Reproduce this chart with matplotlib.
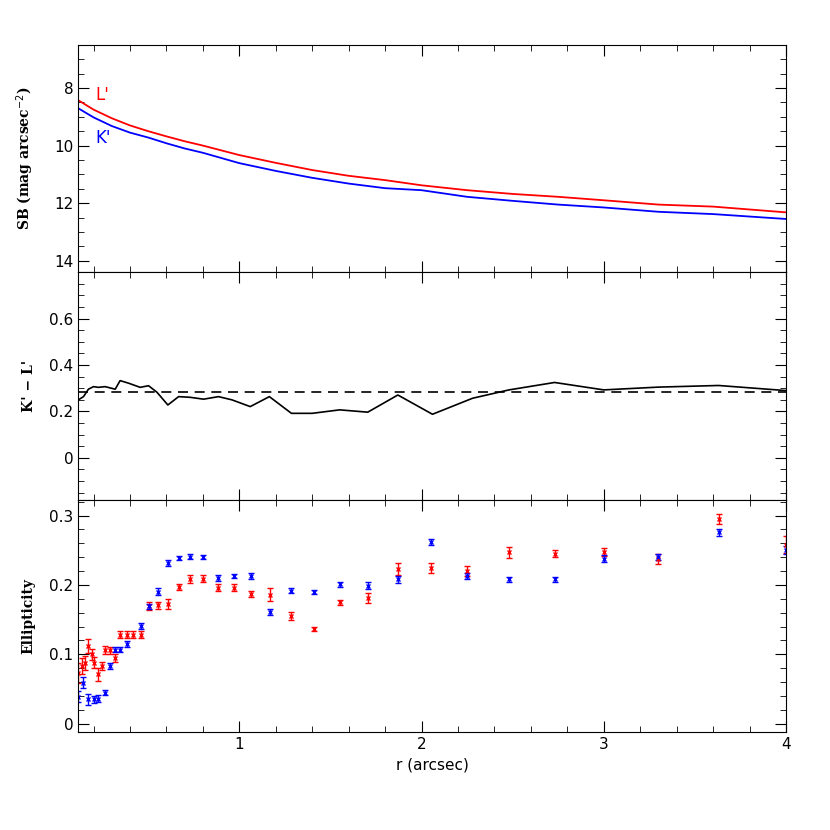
import matplotlib
matplotlib.use("Agg")
import matplotlib.pyplot as plt
from matplotlib.ticker import MultipleLocator, FuncFormatter

# surface brightness profiles
r_sb = [0.115, 0.2, 0.3, 0.4, 0.5, 0.6, 0.7, 0.8, 1.0, 1.2, 1.4, 1.6, 1.8, 2.0, 2.25, 2.5, 2.75, 3.0, 3.3, 3.6, 4.0]
sb_l = [8.42, 8.75, 9.05, 9.3, 9.5, 9.68, 9.85, 10.0, 10.33, 10.6, 10.85, 11.05, 11.2, 11.38, 11.55, 11.68, 11.78, 11.9, 12.05, 12.12, 12.32]
sb_k = [8.70, 9.02, 9.32, 9.55, 9.72, 9.92, 10.1, 10.25, 10.61, 10.88, 11.12, 11.32, 11.48, 11.55, 11.78, 11.92, 12.05, 12.15, 12.3, 12.38, 12.55]

# K'-L' colour profile
r_col = [0.117, 0.145, 0.172, 0.2, 0.227, 0.264, 0.319, 0.346, 0.392, 0.456, 0.502, 0.548, 0.608,
         0.667, 0.731, 0.804, 0.886, 0.96, 1.06, 1.165, 1.286, 1.40, 1.551, 1.705, 1.87, 2.06,
         2.28, 2.48, 2.73, 3.0, 3.3, 3.63, 4.0]
col = [0.25, 0.264, 0.296, 0.307, 0.304, 0.307, 0.296, 0.333, 0.322, 0.304, 0.311, 0.283, 0.228,
       0.264, 0.261, 0.253, 0.264, 0.25, 0.221, 0.264, 0.192, 0.192, 0.207, 0.197, 0.271, 0.188,
       0.257, 0.293, 0.325, 0.293, 0.305, 0.312, 0.29]
col_mean = 0.285

# ellipticity
r_ek = [0.117, 0.145, 0.172, 0.2, 0.227, 0.264, 0.291, 0.319, 0.346, 0.383, 0.46, 0.505, 0.553,
        0.61, 0.667, 0.731, 0.8, 0.883, 0.971, 1.064, 1.17, 1.284, 1.41, 1.551, 1.705, 1.87,
        2.05, 2.25, 2.48, 2.73, 3.0, 3.3, 3.63, 4.0]
ell_k = [0.039, 0.059, 0.035, 0.035, 0.036, 0.045, 0.083, 0.107, 0.107, 0.115, 0.141, 0.169, 0.19,
         0.232, 0.239, 0.241, 0.24, 0.21, 0.213, 0.213, 0.161, 0.192, 0.19, 0.201, 0.199, 0.208,
         0.262, 0.213, 0.208, 0.208, 0.238, 0.24, 0.276, 0.25]
err_k = [0.008, 0.008, 0.008, 0.005, 0.005, 0.004, 0.004, 0.004, 0.004, 0.004, 0.004, 0.004, 0.005,
         0.004, 0.003, 0.003, 0.003, 0.004, 0.003, 0.004, 0.004, 0.004, 0.003, 0.004, 0.005, 0.005,
         0.005, 0.005, 0.004, 0.004, 0.005, 0.004, 0.005, 0.006]
r_el = [0.117, 0.135, 0.154, 0.172, 0.19, 0.205, 0.223, 0.245, 0.264, 0.291, 0.319, 0.346, 0.383,
        0.419, 0.46, 0.505, 0.553, 0.61, 0.667, 0.731, 0.8, 0.883, 0.971, 1.064, 1.17, 1.284,
        1.41, 1.551, 1.705, 1.87, 2.05, 2.25, 2.48, 2.73, 3.0, 3.3, 3.63, 4.0]
ell_l = [0.073, 0.083, 0.088, 0.112, 0.1, 0.088, 0.071, 0.083, 0.106, 0.106, 0.095, 0.128, 0.128,
         0.128, 0.128, 0.17, 0.171, 0.173, 0.197, 0.209, 0.209, 0.196, 0.196, 0.187, 0.186, 0.155,
         0.136, 0.175, 0.181, 0.223, 0.225, 0.22, 0.247, 0.245, 0.248, 0.237, 0.295, 0.258]
err_l = [0.015, 0.012, 0.01, 0.01, 0.008, 0.008, 0.01, 0.006, 0.006, 0.005, 0.006, 0.005, 0.005,
         0.005, 0.005, 0.006, 0.005, 0.007, 0.004, 0.006, 0.005, 0.005, 0.005, 0.005, 0.009, 0.006,
         0.003, 0.004, 0.007, 0.008, 0.007, 0.007, 0.008, 0.005, 0.006, 0.007, 0.007, 0.012]

RED, BLUE = "#ff0000", "#0000ff"


def fmt(v, _):
    s = "%g" % round(v, 3)
    return s


fig = plt.figure(figsize=(8.3, 8.3), dpi=100)
axes = [fig.add_axes([0.094, 0.672, 0.853, 0.274]),
        fig.add_axes([0.094, 0.398, 0.853, 0.274]),
        fig.add_axes([0.094, 0.118, 0.853, 0.280])]
ax1, ax2, ax3 = axes

ax1.plot(r_sb, sb_l, color=RED, lw=1.3)
ax1.plot(r_sb, sb_k, color=BLUE, lw=1.3)
ax1.set_ylim(14.4, 6.5)
ax1.text(0.21, 8.25, "L'", color=RED, fontsize=12, va="center")
ax1.text(0.21, 9.75, "K'", color=BLUE, fontsize=12, va="center")
ax1.set_yticks([8, 10, 12, 14])
ax1.yaxis.set_minor_locator(MultipleLocator(0.5))
ax1.set_ylabel(r"SB (mag arcsec$^{-2}$)", fontweight="bold", fontfamily="DejaVu Serif")

ax2.plot(r_col, col, color="black", lw=1.2)
ax2.axhline(col_mean, color="black", lw=1.2, ls=(0, (6, 4)))
ax2.set_ylim(-0.18, 0.80)
ax2.set_yticks([0, 0.2, 0.4, 0.6])
ax2.yaxis.set_minor_locator(MultipleLocator(0.05))
ax2.set_ylabel("K' − L'", fontweight="bold", fontfamily="DejaVu Serif")

ax3.errorbar(r_el, ell_l, yerr=err_l, fmt="x", ms=3, color=RED, ecolor=RED, capsize=2.5, lw=1, mew=1)
ax3.errorbar(r_ek, ell_k, yerr=err_k, fmt="x", ms=3, color=BLUE, ecolor=BLUE, capsize=2.5, lw=1, mew=1)
ax3.set_ylim(-0.012, 0.323)
ax3.set_yticks([0, 0.1, 0.2, 0.3])
ax3.yaxis.set_minor_locator(MultipleLocator(0.02))
ax3.set_ylabel("Ellipticity", fontweight="bold", fontfamily="DejaVu Serif")
ax3.set_xlabel("r (arcsec)", fontsize=11)

for ax in axes:
    ax.set_xlim(0.115, 4.0)
    ax.xaxis.set_major_locator(MultipleLocator(1))
    ax.xaxis.set_minor_locator(MultipleLocator(0.2))
    ax.yaxis.set_major_formatter(FuncFormatter(fmt))
    ax.tick_params(which="both", direction="in", top=True, right=True, labelsize=11)
    ax.tick_params(which="major", length=8)
    ax.tick_params(which="minor", length=4)
    ax.yaxis.set_label_coords(-0.06, 0.5)
for ax in (ax1, ax2):
    ax.tick_params(labelbottom=False)

fig.savefig("out.png", dpi=100)
